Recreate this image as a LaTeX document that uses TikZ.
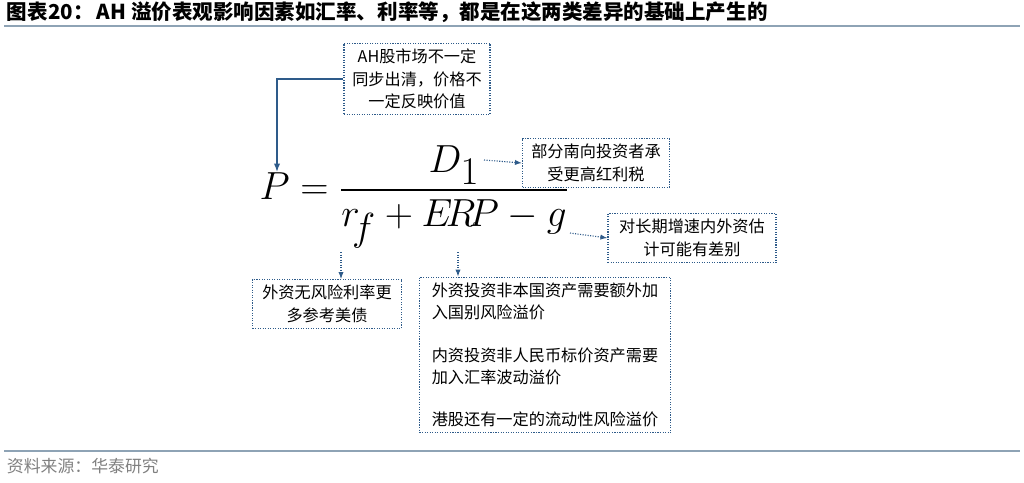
\documentclass[tikz,border=0pt]{standalone}
\usepackage{fontspec}
\usepackage{amsmath}
\usepackage{graphicx}
\setmainfont{Liberation Sans}
\newfontfamily\cjk{Noto Sans CJK SC}
\usetikzlibrary{arrows.meta,positioning}
\definecolor{navy}{HTML}{2E5B8A}
\definecolor{rulegray}{HTML}{8EA3B5}
\tikzset{
 note/.style={draw=navy,densely dotted,line width=0.8pt,inner sep=4pt,font=\cjk\fontsize{11.5}{16}\selectfont,align=center},
 hint/.style={navy,densely dotted,line width=0.8pt,-{Latex[length=5pt]}},
}
\begin{document}
\begin{tikzpicture}[x=0.025cm,y=-0.025cm]
 \useasboundingbox (0,0) rectangle (1024,482);
 % title and rules
 \node[anchor=west,font=\cjk\fontsize{14.6}{16}\selectfont\bfseries] (title) at (2,12) {图表\textbf{20}：\,\textbf{AH} 溢价表观影响因素如汇率、利率等，都是在这两类差异的基础上产生的};
 \draw[rulegray,line width=1pt] (4,26) -- (1020,26);
 \draw[rulegray,line width=1pt] (4,451) -- (1020,451);
 \node[anchor=west,gray,font=\cjk\fontsize{12}{14}\selectfont] (src) at (2,466) {资料来源：华泰研究};
 % formula
 \node (eq) at (414,197) {\scalebox{1.12}{\fontsize{40}{46}\selectfont $P=\dfrac{D_1\vphantom{g}}{r_{\!f}+E\!R\!P-g}$}};
 \coordinate (pTop) at (277,172);
 \coordinate (dOut) at (484,160);
 \coordinate (gOut) at (570,233);
 \coordinate (rOut) at (341,252);
 \coordinate (eOut) at (458,252);
 % boxes
 \node[note,minimum width=146*0.025cm,minimum height=68*0.025cm] (sync) at (417,79) {AH股市场不一定\\同步出清，价格不\\一定反映价值};
 \node[note,minimum width=147*0.025cm,minimum height=46*0.025cm] (tax) at (596,163) {部分南向投资者承\\受更高红利税};
 \node[note,minimum width=168*0.025cm,minimum height=47*0.025cm] (growth) at (692,238) {对长期增速内外资估\\计可能有差别};
 \node[note,minimum width=149*0.025cm,minimum height=47*0.025cm] (rf) at (327,304) {外资无风险利率更\\多参考美债};
 \node[note,minimum width=251*0.025cm,minimum height=147*0.025cm,align=left] (erp) at (545,355) {外资投资非本国资产需要额外加\\入国别风险溢价\\[14pt]内资投资非人民币标价资产需要\\加入汇率波动溢价\\[14pt]港股还有一定的流动性风险溢价};
 % connectors
 \draw[navy,line width=1pt,-{Latex[length=6pt]}] (sync.west) -| (pTop);
 \draw[hint] (dOut) -- (tax.west);
 \draw[hint] (gOut) -- (growth.west);
 \draw[hint] (rOut) -- (rf.north -| rOut);
 \draw[hint] (eOut) -- (erp.north -| eOut);
\end{tikzpicture}
\end{document}
